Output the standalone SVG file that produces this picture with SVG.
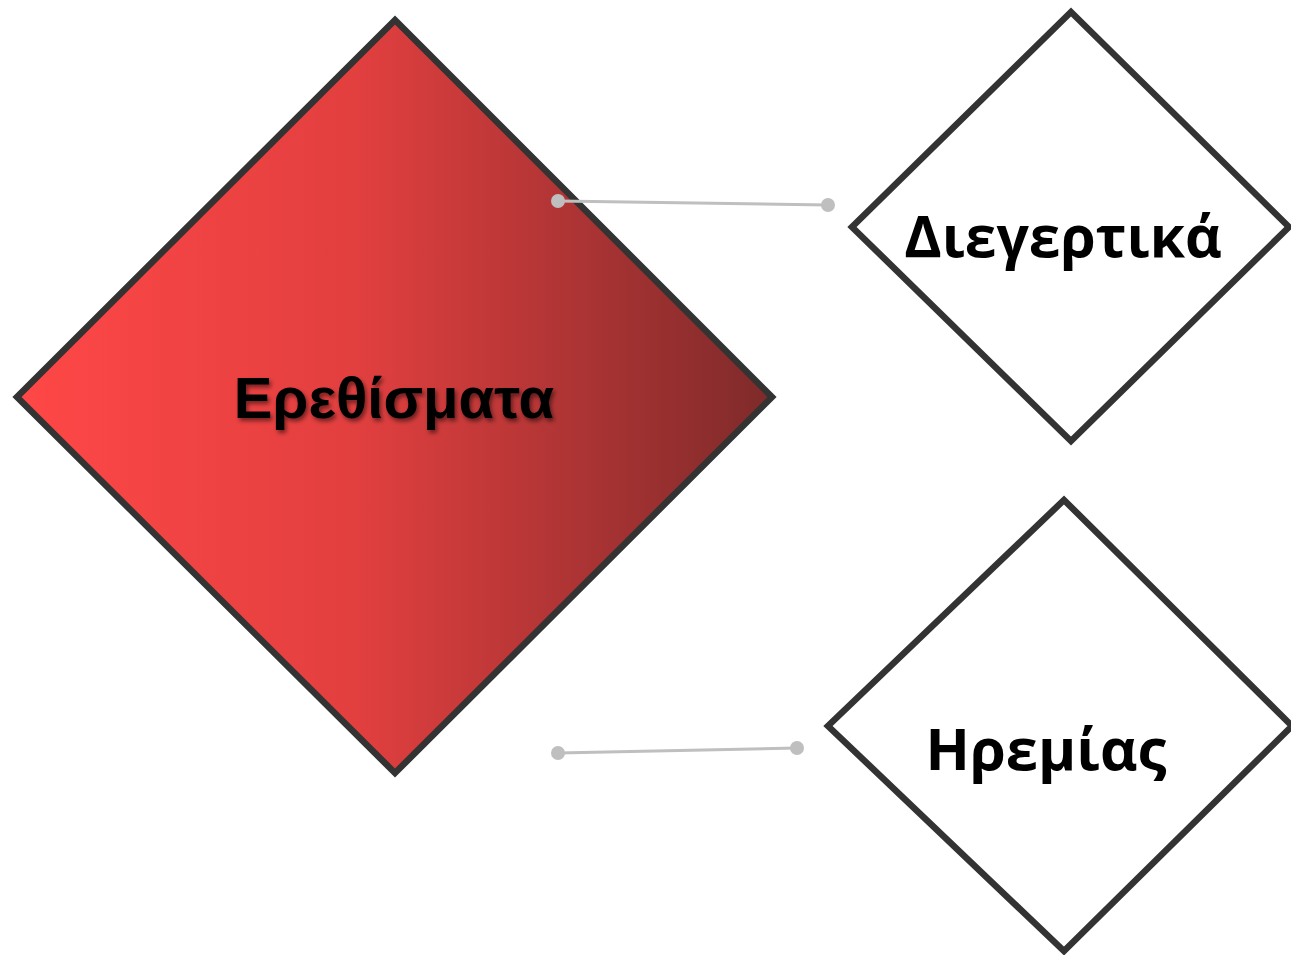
<svg xmlns="http://www.w3.org/2000/svg" width="1291" height="955" viewBox="0 0 1291 955">
<style>
.dia{stroke:#333333;stroke-width:6.5;stroke-linejoin:miter}
.lbl{font-family:"Open Sans","Liberation Sans",sans-serif;font-weight:bold;fill:#000;text-anchor:middle}
.main{font-family:"Liberation Sans",Arial,sans-serif;font-weight:bold;fill:#000;text-anchor:middle}
.conn{stroke:#bfbfbf;stroke-width:3;fill:none}
.dot{fill:#bfbfbf}
</style>
<defs>
<linearGradient id="g1" x1="17" y1="0" x2="772" y2="0" gradientUnits="userSpaceOnUse">
<stop offset="0" stop-color="#ff4747"/>
<stop offset="0.45" stop-color="#e23f3f"/>
<stop offset="1" stop-color="#7e2a2a"/>
</linearGradient>
<filter id="sh" x="-10%" y="-30%" width="120%" height="160%">
<feGaussianBlur in="SourceAlpha" stdDeviation="2"/>
<feOffset dx="2" dy="3" result="b"/>
<feFlood flood-color="#000" flood-opacity="0.5"/>
<feComposite in2="b" operator="in"/>
<feMerge><feMergeNode/><feMergeNode in="SourceGraphic"/></feMerge>
</filter>
</defs>
<rect width="1291" height="955" fill="#ffffff"/>
<g id="node-main">
<polygon class="dia" fill="url(#g1)" points="395,20 772,397 395,773 17,397"/>
<text class="main" x="394" y="418" font-size="58" filter="url(#sh)">Ερεθίσματα</text>
</g>
<g id="node-diegertika">
<polygon class="dia" fill="#ffffff" points="1071,12 1289,227 1071,441 852,227"/>
<text class="lbl" x="1063" y="257" font-size="57">Διεγερτικά</text>
</g>
<g id="node-iremias">
<polygon class="dia" fill="#ffffff" points="1064,500 1292,726 1064,951 828,726"/>
<text class="lbl" x="1046" y="770" font-size="58">Ηρεμίας</text>
</g>
<g id="connectors">
<line class="conn" x1="558" y1="201" x2="828" y2="205"/>
<circle class="dot" cx="558" cy="201" r="7"/>
<circle class="dot" cx="828" cy="205" r="7"/>
<line class="conn" x1="558" y1="753" x2="797" y2="748"/>
<circle class="dot" cx="558" cy="753" r="7"/>
<circle class="dot" cx="797" cy="748" r="7"/>
</g>
</svg>
